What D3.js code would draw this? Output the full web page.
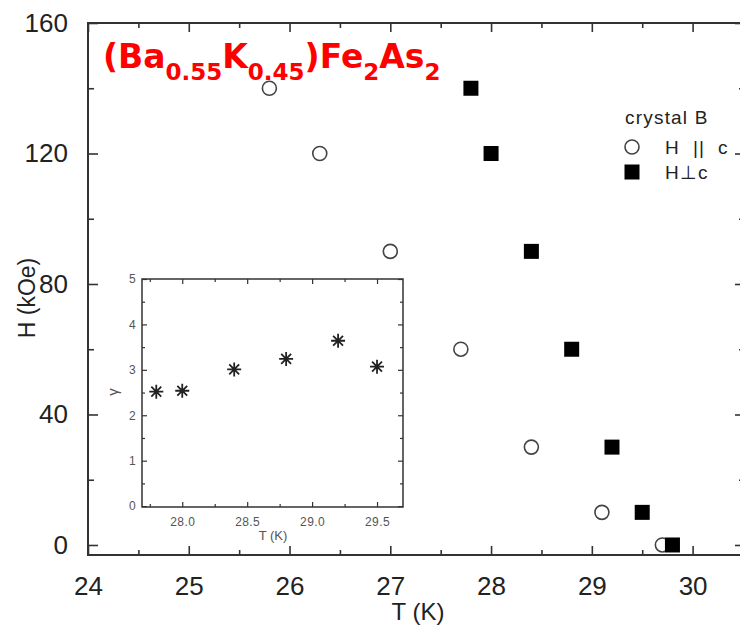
<!DOCTYPE html>
<meta charset="utf-8">
<script src="https://d3js.org/d3.v7.min.js"></script>
<style>
  body { margin: 0; background: #fff; }
  .ax path { display: none; }
  .ax line { stroke: #333; stroke-width: 1.6px; }
  .big text { font-family: "Liberation Sans", Arial, sans-serif; font-size: 26px; fill: #222; }
  .small text { font-family: "Liberation Sans", Arial, sans-serif; font-size: 12px; fill: #555; letter-spacing: 0.4px; }
  .small line { stroke-width: 1.2px; }
</style>
<body>
<svg id="vis" width="740" height="629"></svg>
<script>
// main panel: upper critical field
var tPara = [25.8, 26.3, 27.0, 27.7, 28.4, 29.1, 29.7];
var hPara = [140, 120, 90, 60, 30, 10, 0];
var tPerp = [27.8, 28.0, 28.4, 28.8, 29.2, 29.5, 29.8];
var hPerp = [140, 120, 90, 60, 30, 10, 0];
// inset: anisotropy
var tInset = [27.8, 28.0, 28.4, 28.8, 29.2, 29.5];
var gamma = [2.52, 2.54, 3.01, 3.24, 3.64, 3.07];

var xTicks = [24, 25, 26, 27, 28, 29, 30];
var yTicks = [0, 40, 80, 120, 160];
var xTicksIn = [28.0, 28.5, 29.0, 29.5];
var yTicksIn = [0, 1, 2, 3, 4, 5];

var svg = d3.select("#vis");

var x = d3.scaleLinear().domain([24, 30.52]).range([88, 745]);
var y = d3.scaleLinear().domain([-3.07, 160]).range([555, 23]);

// frame
svg.append("rect")
  .attr("x", x(24)).attr("y", y(160))
  .attr("width", x(30.52) - x(24)).attr("height", y(-3.07) - y(160))
  .attr("fill", "none").attr("stroke", "#333").attr("stroke-width", 2);

var xMinor = d3.range(24.5, 30.6, 1);
var yMinor = [20, 60, 100, 140];

// bottom
svg.append("g").attr("class", "ax big")
  .attr("transform", "translate(0," + y(-3.07) + ")")
  .call(d3.axisBottom(x).tickValues(xTicks).tickSizeInner(-9).tickPadding(22).tickFormat(d3.format("d")));
svg.append("g").attr("class", "ax big")
  .attr("transform", "translate(0," + y(-3.07) + ")")
  .call(d3.axisBottom(x).tickValues(xMinor).tickSizeInner(-5).tickFormat(""));
// top
svg.append("g").attr("class", "ax big")
  .attr("transform", "translate(0," + y(160) + ")")
  .call(d3.axisTop(x).tickValues(xTicks).tickSizeInner(-9).tickFormat(""));
svg.append("g").attr("class", "ax big")
  .attr("transform", "translate(0," + y(160) + ")")
  .call(d3.axisTop(x).tickValues(xMinor).tickSizeInner(-5).tickFormat(""));
// left
svg.append("g").attr("class", "ax big")
  .attr("transform", "translate(" + x(24) + ",0)")
  .call(d3.axisLeft(y).tickValues(yTicks).tickSizeInner(-10).tickPadding(20).tickFormat(d3.format("d")));
svg.append("g").attr("class", "ax big")
  .attr("transform", "translate(" + x(24) + ",0)")
  .call(d3.axisLeft(y).tickValues(yMinor).tickSizeInner(-6).tickFormat(""));
// right
svg.append("g").attr("class", "ax big")
  .attr("transform", "translate(" + x(30.52) + ",0)")
  .call(d3.axisRight(y).tickValues(yTicks).tickSizeInner(-10).tickFormat(""));
svg.append("g").attr("class", "ax big")
  .attr("transform", "translate(" + x(30.52) + ",0)")
  .call(d3.axisRight(y).tickValues(yMinor).tickSizeInner(-6).tickFormat(""));

// axis titles
svg.append("text")
  .attr("x", 418).attr("y", 620)
  .attr("text-anchor", "middle")
  .attr("font-family", "Liberation Sans, Arial, sans-serif")
  .attr("font-size", "24px").attr("fill", "#222")
  .text("T (K)");
svg.append("text")
  .attr("transform", "translate(35,298) rotate(-90)")
  .attr("text-anchor", "middle")
  .attr("font-family", "Liberation Sans, Arial, sans-serif")
  .attr("font-size", "23px").attr("fill", "#222")
  .text("H (kOe)");

// compound label
var title = svg.append("text")
  .attr("x", 103).attr("y", 68)
  .attr("font-family", "DejaVu Sans, Verdana, sans-serif")
  .attr("font-weight", "bold").attr("fill", "#ff0000")
  .attr("font-size", "33px");
var parts = [["(Ba", 0], ["0.55", 1], ["K", 0], ["0.45", 1], [")Fe", 0], ["2", 1], ["As", 0], ["2", 1]];
var prevSub = 0;
parts.forEach(function(p) {
  var dy = (p[1] - prevSub) * 12;
  title.append("tspan")
    .attr("dy", dy)
    .attr("font-size", p[1] ? "23px" : "33px")
    .text(p[0]);
  prevSub = p[1];
});

// data markers
var sq = 15;
svg.append("g").selectAll("circle")
  .data(tPara.map(function(t, i) { return [t, hPara[i]]; }))
  .enter().append("circle")
    .attr("cx", function(d) { return x(d[0]); })
    .attr("cy", function(d) { return y(d[1]); })
    .attr("r", 7)
    .attr("fill", "#fff").attr("stroke", "#444").attr("stroke-width", 1.6);
svg.append("g").selectAll("rect")
  .data(tPerp.map(function(t, i) { return [t, hPerp[i]]; }))
  .enter().append("rect")
    .attr("x", function(d) { return x(d[0]) - sq / 2; })
    .attr("y", function(d) { return y(d[1]) - sq / 2; })
    .attr("width", sq).attr("height", sq)
    .attr("fill", "#000");

// legend
var lg = svg.append("g").attr("font-family", "Liberation Sans, Arial, sans-serif")
  .attr("font-size", "19px").attr("fill", "#222").attr("letter-spacing", "1.2px");
lg.append("text").attr("x", 625).attr("y", 124).text("crystal B");
lg.append("circle").attr("cx", 632).attr("cy", 147).attr("r", 7)
  .attr("fill", "#fff").attr("stroke", "#444").attr("stroke-width", 1.6);
lg.append("text").attr("x", 665).attr("y", 154).attr("xml:space", "preserve").text("H  ||  c");
lg.append("rect").attr("x", 632 - sq / 2).attr("y", 172 - sq / 2).attr("width", sq).attr("height", sq).attr("fill", "#000");
lg.append("text").attr("x", 665).attr("y", 179).text("H\u22A5c");

// inset
var xi = d3.scaleLinear().domain([27.69, 29.70]).range([142, 403]);
var yi = d3.scaleLinear().domain([-0.02, 5]).range([507, 279]);
var inset = svg.append("g");
inset.append("rect")
  .attr("x", xi(27.69)).attr("y", yi(5))
  .attr("width", xi(29.70) - xi(27.69)).attr("height", yi(-0.02) - yi(5))
  .attr("fill", "#fff").attr("stroke", "#333").attr("stroke-width", 1.5);

var xiMinor = [27.75, 28.25, 28.75, 29.25];
var yiMinor = [0.5, 1.5, 2.5, 3.5, 4.5];

inset.append("g").attr("class", "ax small")
  .attr("transform", "translate(0," + yi(-0.02) + ")")
  .call(d3.axisBottom(xi).tickValues(xTicksIn).tickSizeInner(-5).tickPadding(10).tickFormat(d3.format(".1f")));
inset.append("g").attr("class", "ax small")
  .attr("transform", "translate(0," + yi(-0.02) + ")")
  .call(d3.axisBottom(xi).tickValues(xiMinor).tickSizeInner(-3).tickFormat(""));
inset.append("g").attr("class", "ax small")
  .attr("transform", "translate(0," + yi(5) + ")")
  .call(d3.axisTop(xi).tickValues(xTicksIn).tickSizeInner(-5).tickFormat(""));
inset.append("g").attr("class", "ax small")
  .attr("transform", "translate(0," + yi(5) + ")")
  .call(d3.axisTop(xi).tickValues(xiMinor).tickSizeInner(-3).tickFormat(""));
inset.append("g").attr("class", "ax small")
  .attr("transform", "translate(" + xi(27.69) + ",0)")
  .call(d3.axisLeft(yi).tickValues(yTicksIn).tickSizeInner(-5).tickPadding(6).tickFormat(d3.format("d")));
inset.append("g").attr("class", "ax small")
  .attr("transform", "translate(" + xi(27.69) + ",0)")
  .call(d3.axisLeft(yi).tickValues(yiMinor).tickSizeInner(-3).tickFormat(""));
inset.append("g").attr("class", "ax small")
  .attr("transform", "translate(" + xi(29.70) + ",0)")
  .call(d3.axisRight(yi).tickValues(yTicksIn).tickSizeInner(-5).tickFormat(""));
inset.append("g").attr("class", "ax small")
  .attr("transform", "translate(" + xi(29.70) + ",0)")
  .call(d3.axisRight(yi).tickValues(yiMinor).tickSizeInner(-3).tickFormat(""));

inset.append("text")
  .attr("x", 273).attr("y", 540).attr("text-anchor", "middle")
  .attr("font-family", "Liberation Sans, Arial, sans-serif")
  .attr("font-size", "13px").attr("fill", "#555")
  .text("T (K)");
inset.append("text")
  .attr("transform", "translate(118,392) rotate(-90)")
  .attr("text-anchor", "middle")
  .attr("font-family", "Liberation Sans, Arial, sans-serif")
  .attr("font-size", "15px").attr("fill", "#555")
  .text("\u03B3");

// asterisk markers
function star(r) {
  var p = d3.path();
  [0, 45, 90, 135].forEach(function(a) {
    var c = Math.cos(a * Math.PI / 180) * r, s = Math.sin(a * Math.PI / 180) * r;
    p.moveTo(-c, -s); p.lineTo(c, s);
  });
  return p.toString();
}
inset.append("g").selectAll("path")
  .data(tInset.map(function(t, i) { return [t, gamma[i]]; }))
  .enter().append("path")
    .attr("transform", function(d) { return "translate(" + xi(d[0]) + "," + yi(d[1]) + ")"; })
    .attr("d", star(7))
    .attr("stroke", "#222").attr("stroke-width", 1.8).attr("fill", "none");
</script>
</body>
